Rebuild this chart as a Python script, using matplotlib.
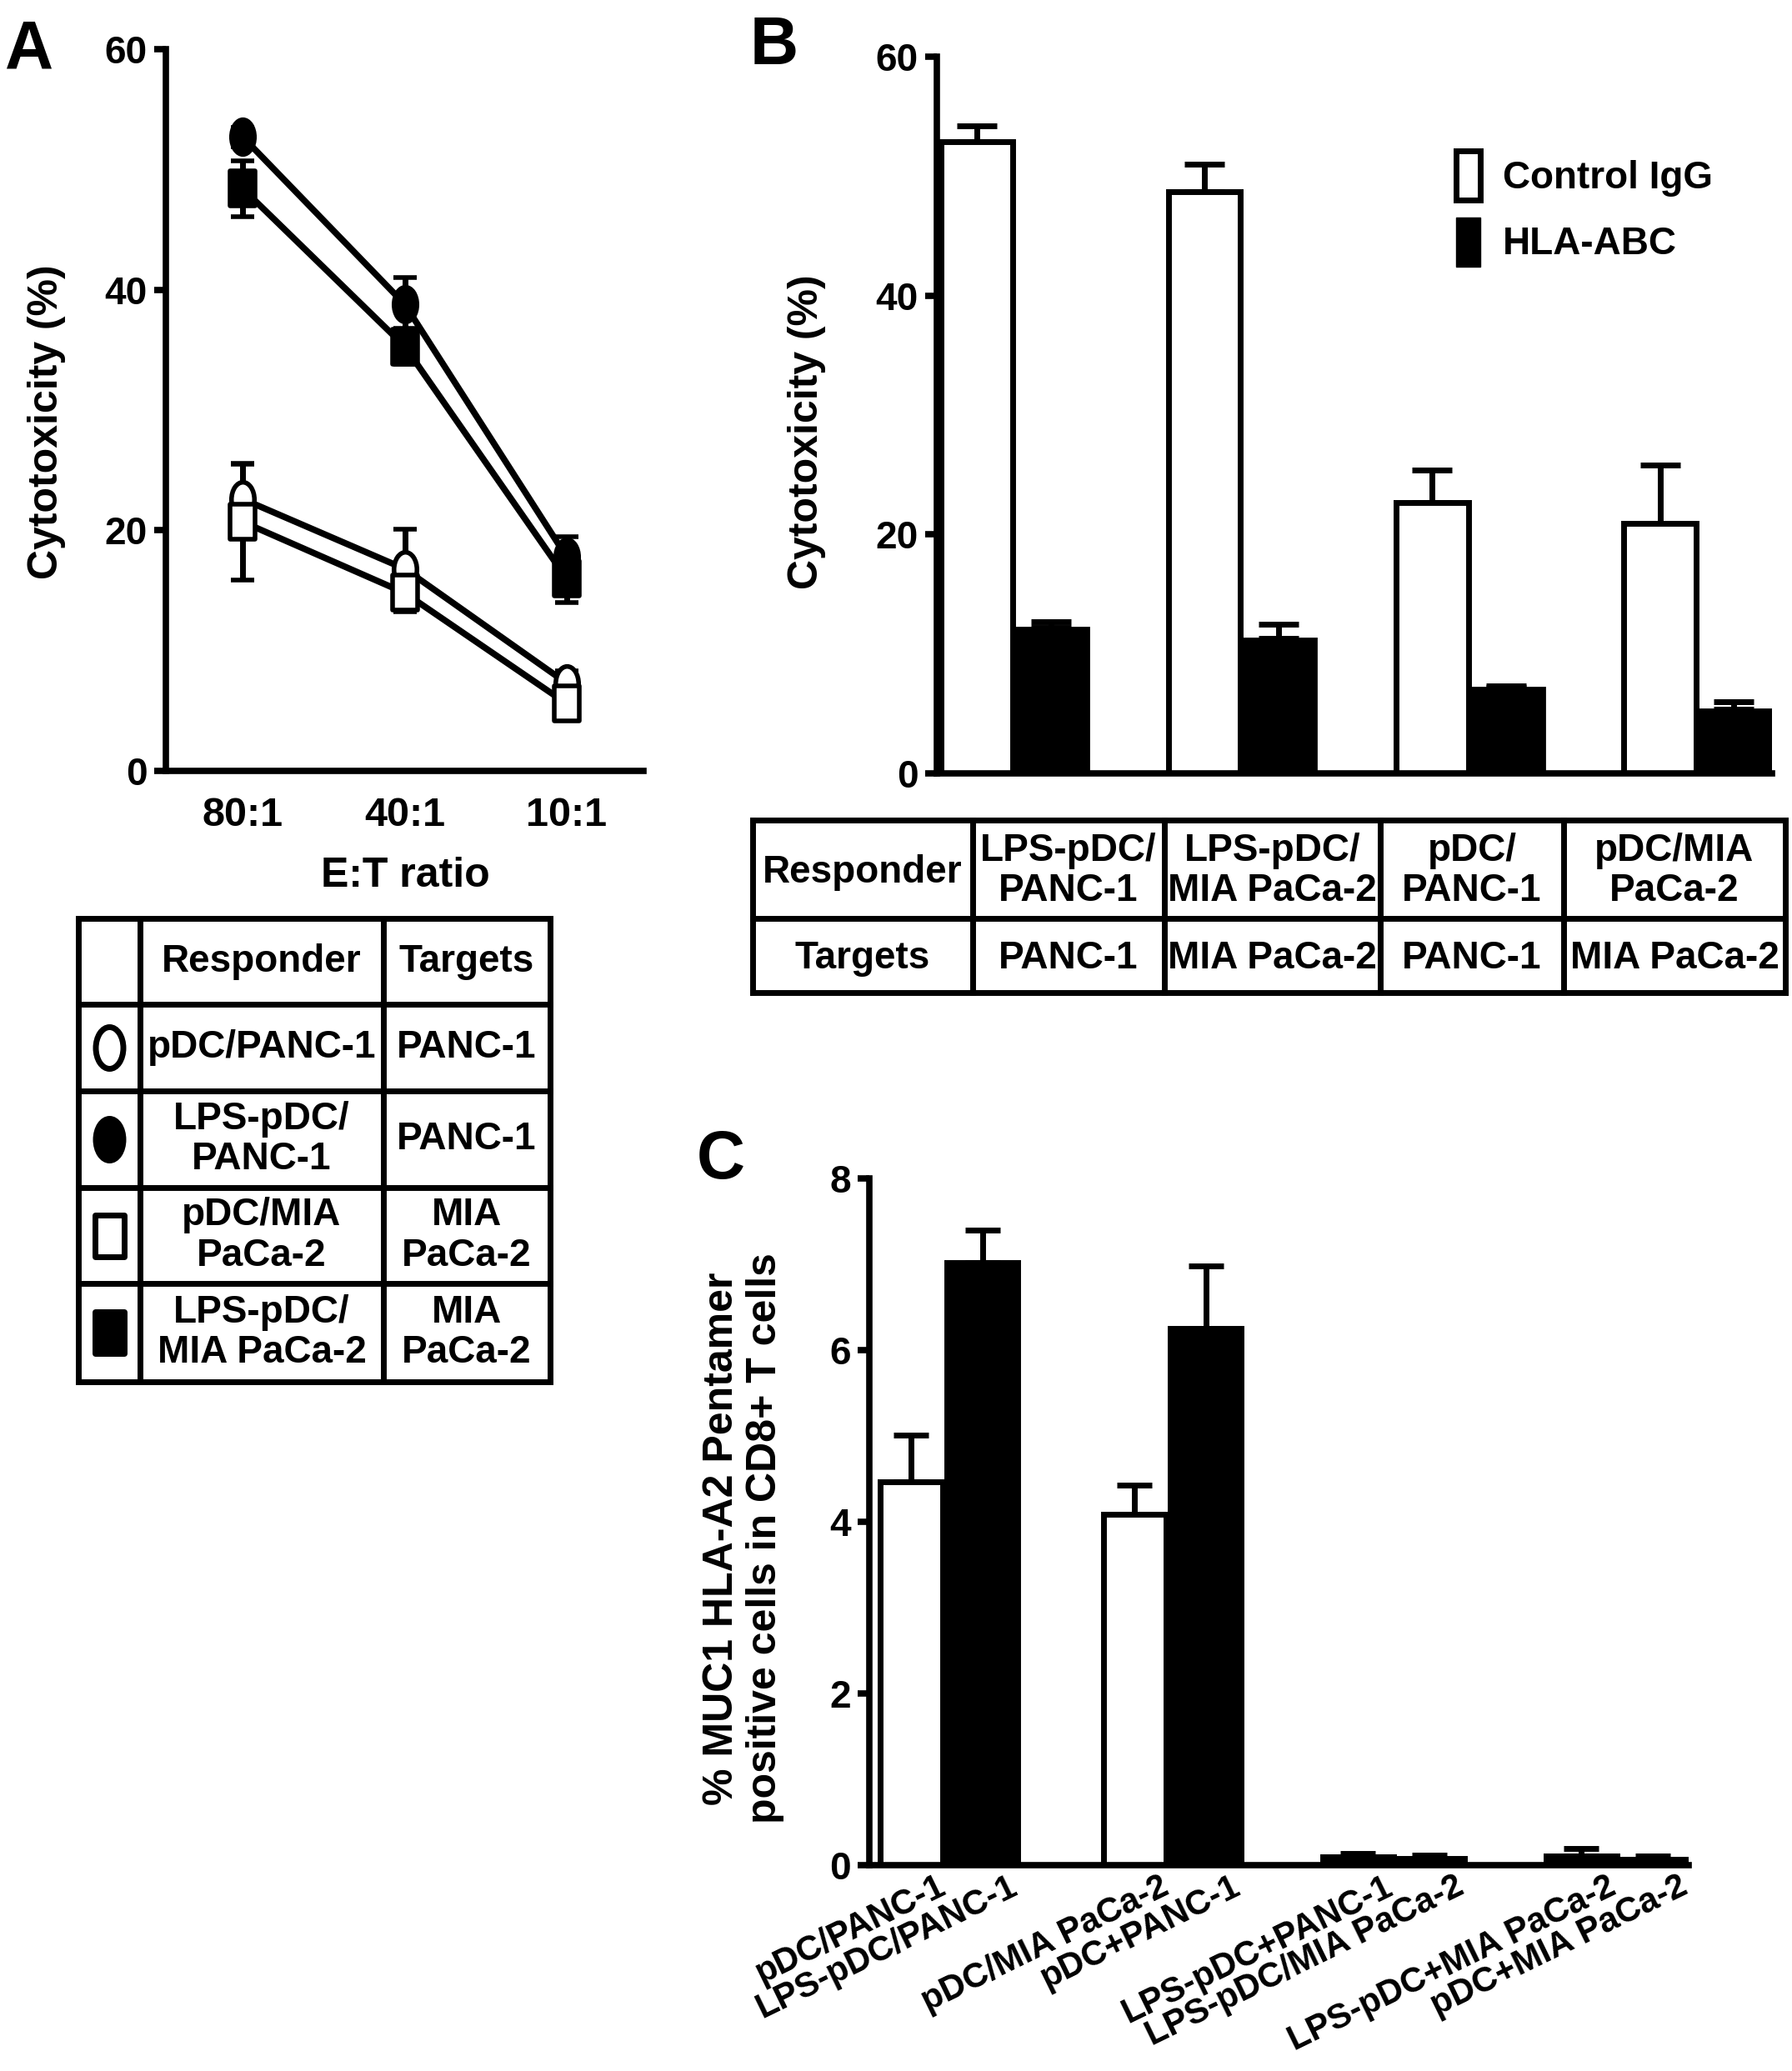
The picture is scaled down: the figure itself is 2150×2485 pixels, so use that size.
import matplotlib.pyplot as plt
from matplotlib.path import Path
from matplotlib.transforms import Affine2D, ScaledTranslation
from matplotlib.patches import Patch

plt.rcParams['font.family'] = ['Liberation Sans', 'DejaVu Sans']
plt.rcParams['font.weight'] = 'bold'

# --- data: panel A (E:T ratio curves) ---
ratios = ['80:1', '40:1', '10:1']
a_pdc_panc = [22.6, 16.8, 7.3]
a_pdc_panc_err = [3.0, 3.3, 1.0]
a_lps_panc = [52.7, 38.8, 17.8]
a_lps_panc_err = [0.8, 2.2, 1.7]
a_pdc_mia = [20.7, 14.8, 5.6]
a_pdc_mia_err = [4.8, 1.6, 1.0]
a_lps_mia = [48.4, 35.3, 16.0]
a_lps_mia_err = [2.3, 1.5, 2.0]
a_responders = ['pDC/PANC-1', 'LPS-pDC/\nPANC-1', 'pDC/MIA\nPaCa-2', 'LPS-pDC/\nMIA PaCa-2']
a_targets = ['PANC-1', 'PANC-1', 'MIA\nPaCa-2', 'MIA\nPaCa-2']

# --- data: panel B (blocking) ---
b_responders = ['LPS-pDC/\nPANC-1', 'LPS-pDC/\nMIA PaCa-2', 'pDC/\nPANC-1', 'pDC/MIA\nPaCa-2']
b_targets = ['PANC-1', 'MIA PaCa-2', 'PANC-1', 'MIA PaCa-2']
b_igg = [52.9, 48.7, 22.7, 20.9]
b_igg_err = [1.3, 2.3, 2.7, 4.9]
b_hla = [12.2, 11.3, 7.2, 5.4]
b_hla_err = [0.5, 1.2, 0.15, 0.6]

# --- data: panel C (pentamer) ---
c_labels = ['pDC/PANC-1', 'LPS-pDC/PANC-1', 'pDC/MIA PaCa-2', 'pDC+PANC-1',
            'LPS-pDC+PANC-1', 'LPS-pDC/MIA PaCa-2', 'LPS-pDC+MIA PaCa-2', 'pDC+MIA PaCa-2']
c_vals = [4.47, 7.02, 4.09, 6.25, 0.10, 0.08, 0.11, 0.07]
c_err = [0.54, 0.38, 0.34, 0.73, 0.04, 0.04, 0.08, 0.04]

W, H = 2150, 2485
fig = plt.figure(figsize=(W / 100, H / 100), dpi=100)

def px_axes(left, top, right, bottom):
    return fig.add_axes([left / W, 1 - bottom / H, (right - left) / W, (bottom - top) / H])

# background axes in pixel coordinates for tables and free text
bg = fig.add_axes([0, 0, 1, 1])
bg.set_xlim(0, W)
bg.set_ylim(H, 0)
bg.axis('off')

SPINE = 5.5
EDGE = 5
oval = Path.unit_circle().transformed(Affine2D().scale(0.66, 1.0))
rect = Path([(-0.7, -1), (0.7, -1), (0.7, 1), (-0.7, 1), (-0.7, -1)],
            [Path.MOVETO, Path.LINETO, Path.LINETO, Path.LINETO, Path.CLOSEPOLY])

def style_axes(ax, ymax, step, size=33):
    for s in ['top', 'right']:
        ax.spines[s].set_visible(False)
    ax.spines['left'].set_linewidth(SPINE)
    ax.spines['bottom'].set_linewidth(SPINE)
    ax.set_ylim(0, ymax)
    ax.set_yticks(range(0, ymax + 1, step))
    ax.tick_params(axis='y', length=10, width=SPINE, pad=6, labelsize=size)
    ax.tick_params(axis='x', length=0, labelsize=size)

# ---------------- Panel A ----------------
axA = px_axes(199, 59, 772, 925)
xa = range(len(ratios))
series = [
    (a_pdc_panc, a_pdc_panc_err, oval, 'white'),
    (a_lps_panc, a_lps_panc_err, oval, 'black'),
    (a_pdc_mia, a_pdc_mia_err, rect, 'white'),
    (a_lps_mia, a_lps_mia_err, rect, 'black'),
]
for vals, err, mk, fc in series:
    axA.errorbar(xa, vals, yerr=err, color='black', lw=5.5, elinewidth=5,
                 capsize=10, capthick=5, marker=mk, markersize=30,
                 markerfacecolor=fc, markeredgecolor='black', markeredgewidth=4,
                 zorder=3)
axA.set_xlim(-0.475, 2.475)
style_axes(axA, 60, 20)
axA.set_xticks(list(xa))
axA.set_xticklabels(ratios)
axA.tick_params(axis='x', pad=22, labelsize=35)
bg.text(486, 1051, 'E:T ratio', ha='center', va='center', fontsize=36)
bg.text(56, 506, 'Cytotoxicity (%)', rotation=90, ha='center', va='center', fontsize=36)
bg.text(6, 22, 'A', ha='left', va='top', fontsize=58)

# ---------------- Panel B ----------------
axB = px_axes(1124, 68, 2126, 928)
for g in range(len(b_igg)):
    axB.bar(3 * g + 0.05, b_igg[g], width=0.95, align='edge', color='white',
            edgecolor='black', linewidth=EDGE, zorder=2)
    axB.errorbar(3 * g + 0.525, b_igg[g], yerr=[[0], [b_igg_err[g]]], color='black',
                 elinewidth=5, capsize=17, capthick=5, zorder=1)
    axB.bar(3 * g + 1.0, b_hla[g], width=1.0, align='edge', color='black',
            edgecolor='black', linewidth=2, zorder=2)
    axB.errorbar(3 * g + 1.5, b_hla[g], yerr=[[0], [b_hla_err[g]]], color='black',
                 elinewidth=5, capsize=17, capthick=5, zorder=1)
axB.set_xlim(0, 11)
style_axes(axB, 60, 20)
axB.set_xticks([])
leg = axB.legend(handles=[Patch(facecolor='white', edgecolor='black', linewidth=5),
                          Patch(facecolor='black', edgecolor='black')],
                 labels=['Control IgG', 'HLA-ABC'], frameon=False, fontsize=33,
                 handlelength=0.62, handleheight=1.6, handletextpad=0.6,
                 labelspacing=0.45, loc='upper left',
                 bbox_to_anchor=(1706 / W, 1 - 140 / H), bbox_transform=fig.transFigure)
bg.text(968, 518, 'Cytotoxicity (%)', rotation=90, ha='center', va='center', fontsize=36)
bg.text(900, 18, 'B', ha='left', va='top', fontsize=58)

# ---------------- Panel C ----------------
axC = px_axes(1043, 1414, 2026, 2238)
c_colors = ['white', 'black', 'white', 'black', 'black', 'black', 'black', 'black']
c_x = []
for i, v in enumerate(c_vals):
    x = 3 * (i // 2) + (0.56 if i % 2 == 0 else 1.52)
    c_x.append(x)
    wdt = 0.84 if c_colors[i] == 'white' else 0.95
    axC.bar(x, v, width=wdt, color=c_colors[i], edgecolor='black', linewidth=EDGE, zorder=2)
    axC.errorbar(x, v, yerr=[[0], [c_err[i]]], color='black', elinewidth=5,
                 capsize=15, capthick=5, zorder=1)
axC.set_xlim(0, 11)
style_axes(axC, 8, 2)
axC.set_xticks(c_x)
axC.set_xticklabels(c_labels, rotation=26, ha='right', va='top', rotation_mode='anchor')
axC.tick_params(axis='x', pad=4, labelsize=30)
offs = ScaledTranslation(30 / 100, 0, fig.dpi_scale_trans)
for lab in axC.get_xticklabels():
    lab.set_transform(lab.get_transform() + offs)
bg.text(892, 1846, '% MUC1 HLA-A2 Pentamer\npositive cells in CD8+ T cells', rotation=90,
        ha='center', va='center', fontsize=36, linespacing=1.15)
bg.text(836, 1355, 'C', ha='left', va='top', fontsize=58)

# ---------------- Tables ----------------
def grid(cols, rows, lw=5):
    for x in cols:
        bg.plot([x, x], [rows[0], rows[-1]], color='black', lw=lw, solid_capstyle='projecting')
    for y in rows:
        bg.plot([cols[0], cols[-1]], [y, y], color='black', lw=lw, solid_capstyle='projecting')

def mid(edges, i):
    return (edges[i] + edges[i + 1]) / 2

# table A
ta_cols = [94, 168, 460, 660]
ta_rows = [1102, 1205, 1309, 1425, 1540, 1658]
grid(ta_cols, ta_rows)
bg.text(mid(ta_cols, 1), mid(ta_rows, 0), 'Responder', ha='center', va='center', fontsize=33)
bg.text(mid(ta_cols, 2), mid(ta_rows, 0), 'Targets', ha='center', va='center', fontsize=33)
for i, (mk, fc) in enumerate([(s[2], s[3]) for s in series]):
    bg.plot(mid(ta_cols, 0), mid(ta_rows, i + 1), marker=mk, markersize=36,
            markerfacecolor=fc, markeredgecolor='black', markeredgewidth=5)
    bg.text(mid(ta_cols, 1), mid(ta_rows, i + 1), a_responders[i], ha='center',
            va='center', fontsize=33, linespacing=1.12)
    bg.text(mid(ta_cols, 2), mid(ta_rows, i + 1), a_targets[i], ha='center',
            va='center', fontsize=33, linespacing=1.12)

# table B
tb_cols = [903, 1167, 1397, 1656, 1876, 2142]
tb_rows = [984, 1102, 1191]
grid(tb_cols, tb_rows)
bg.text(mid(tb_cols, 0), mid(tb_rows, 0) + 4, 'Responder', ha='center', va='center', fontsize=33)
bg.text(mid(tb_cols, 0), mid(tb_rows, 1) + 4, 'Targets', ha='center', va='center', fontsize=33)
for i in range(len(b_responders)):
    bg.text(mid(tb_cols, i + 1), mid(tb_rows, 0) + 2, b_responders[i], ha='center',
            va='center', fontsize=33, linespacing=1.1)
    bg.text(mid(tb_cols, i + 1), mid(tb_rows, 1) + 4, b_targets[i], ha='center',
            va='center', fontsize=33)

fig.savefig('out.png', dpi=100)
